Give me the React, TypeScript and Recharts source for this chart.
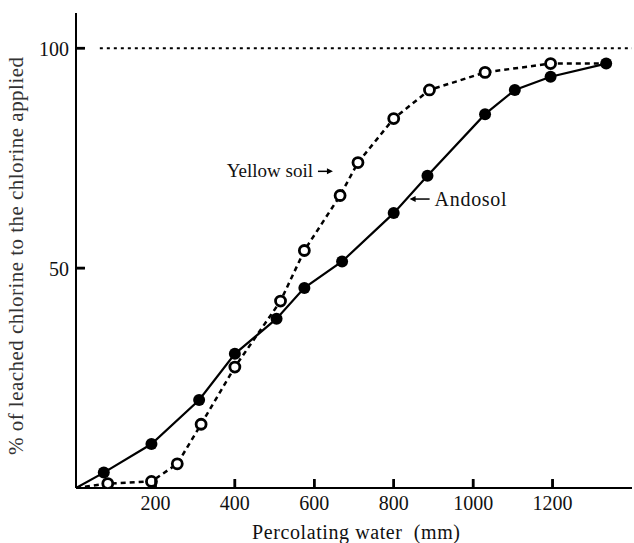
import React from "react";
import { LineChart, Line, XAxis, YAxis, ReferenceLine, ReferenceDot } from "recharts";

// percolating water (mm) vs % of leached chlorine
const andosolX = [0, 70, 190, 310, 400, 505, 575, 670, 800, 885, 1030, 1105, 1195, 1335];
const andosolY = [0, 3.5, 10, 20, 30.5, 38.5, 45.5, 51.5, 62.5, 71, 85, 90.5, 93.5, 96.5];
const yellowX = [0, 80, 190, 255, 315, 400, 515, 575, 665, 710, 800, 890, 1030, 1195, 1335];
const yellowY = [0, 1, 1.5, 5.5, 14.5, 27.5, 42.5, 54, 66.5, 74, 84, 90.5, 94.5, 96.5, 96.5];
const xTicks = [200, 400, 600, 800, 1000, 1200];
const yTicks = [50, 100];

const andosol = andosolX.map((x, i) => ({ x, y: andosolY[i] }));
const yellow = yellowX.map((x, i) => ({ x, y: yellowY[i] }));

const font = "'Liberation Serif', 'DejaVu Serif', serif";

const xTick = (props: any) => {
  const { x, y, payload } = props;
  return (
    <g key={"x" + payload.value}>
      <line x1={x} y1={y - 9} x2={x} y2={y} stroke="#000" strokeWidth={2.5} />
      <text x={x} y={y + 22} textAnchor="middle" fontSize={20} fontFamily={font} fill="#111">
        {payload.value}
      </text>
    </g>
  );
};

const yTick = (props: any) => {
  const { x, y, payload } = props;
  return (
    <g key={"y" + payload.value}>
      <line x1={x} y1={y} x2={x + 9} y2={y} stroke="#000" strokeWidth={2.5} />
      <text x={x - 7} y={y + 8} textAnchor="end" fontSize={20} fontFamily={font} fill="#111">
        {payload.value}
      </text>
    </g>
  );
};

const filledDot = (p: any) =>
  p.index === 0 ? <g key={p.index} /> : <circle key={p.index} cx={p.cx} cy={p.cy} r={6} fill="#000" />;

const openDot = (p: any) =>
  p.index === 0 || p.index === yellow.length - 1 ? (
    <g key={p.index} />
  ) : (
    <circle key={p.index} cx={p.cx} cy={p.cy} r={5} fill="#fff" stroke="#000" strokeWidth={2.8} />
  );

const yellowLabel = (p: any) => (
  <g>
    <text x={p.cx - 20} y={p.cy + 6} textAnchor="end" fontSize={19} fontFamily={font} fill="#111">
      Yellow soil
    </text>
    <line x1={p.cx - 15} y1={p.cy} x2={p.cx - 3} y2={p.cy} stroke="#000" strokeWidth={1.5} />
    <path d={`M${p.cx},${p.cy} l-6,-3 l0,6 z`} fill="#000" />
  </g>
);

const andosolLabel = (p: any) => (
  <g>
    <line x1={p.cx + 3} y1={p.cy} x2={p.cx + 20} y2={p.cy} stroke="#000" strokeWidth={1.5} />
    <path d={`M${p.cx},${p.cy} l6,-3 l0,6 z`} fill="#000" />
    <text x={p.cx + 25} y={p.cy + 7} fontSize={20} fontFamily={font} fill="#111" textLength={72} lengthAdjust="spacing">
      Andosol
    </text>
  </g>
);

export default function App() {
  return (
    <div style={{ position: "absolute", left: 0, top: 0, width: 634, height: 543, background: "#fff" }}>
      <LineChart width={634} height={543} margin={{ top: 13, right: 2, bottom: 0, left: 0 }}>
        <XAxis
          type="number"
          dataKey="x"
          domain={[0, 1400]}
          ticks={xTicks}
          tick={xTick}
          tickLine={false}
          tickSize={0}
          tickMargin={0}
          axisLine={{ stroke: "#000", strokeWidth: 2 }}
          height={55}
          allowDataOverflow
        />
        <YAxis
          type="number"
          dataKey="y"
          domain={[0, 108]}
          ticks={yTicks}
          tick={yTick}
          tickLine={false}
          tickSize={0}
          tickMargin={0}
          axisLine={{ stroke: "#000", strokeWidth: 2 }}
          width={76}
          allowDataOverflow
        />
        {xTicks.map((t) => (
          <ReferenceLine
            key={"xt" + t}
            segment={[{ x: t, y: 0 }, { x: t, y: 2 }]}
            stroke="#000"
            strokeWidth={2.5}
            ifOverflow="visible"
          />
        ))}
        {yTicks.map((t) => (
          <ReferenceLine
            key={"yt" + t}
            segment={[{ x: 0, y: t }, { x: 22, y: t }]}
            stroke="#000"
            strokeWidth={2.5}
            ifOverflow="visible"
          />
        ))}
        <ReferenceLine
          segment={[{ x: 60, y: 100 }, { x: 1400, y: 100 }]}
          stroke="#000"
          strokeWidth={2}
          strokeDasharray="3 4"
        />
        <Line
          data={yellow}
          dataKey="y"
          stroke="#000"
          strokeWidth={2.5}
          strokeDasharray="5 4"
          dot={openDot}
          activeDot={false}
          isAnimationActive={false}
        />
        <Line
          data={andosol}
          dataKey="y"
          stroke="#000"
          strokeWidth={2.2}
          dot={filledDot}
          activeDot={false}
          isAnimationActive={false}
        />
        <ReferenceDot x={647} y={72} r={0} shape={yellowLabel} />
        <ReferenceDot x={840} y={65.7} r={0} shape={andosolLabel} />
      </LineChart>
      <svg width={634} height={543} style={{ position: "absolute", left: 0, top: 0, pointerEvents: "none" }}>
        <text
          x={356}
          y={539}
          textAnchor="middle"
          fontSize={20}
          fontFamily={font}
          fill="#111"
          textLength={208}
          lengthAdjust="spacing"
        >
          Percolating water{"\u00a0\u00a0"}(mm)
        </text>
        <text
          x={0}
          y={0}
          transform="translate(23,256) rotate(-90)"
          textAnchor="middle"
          fontSize={21}
          fontFamily={font}
          fill="#333"
          textLength={398}
          lengthAdjust="spacing"
        >
          % of leached chlorine to the chlorine applied
        </text>
      </svg>
    </div>
  );
}
